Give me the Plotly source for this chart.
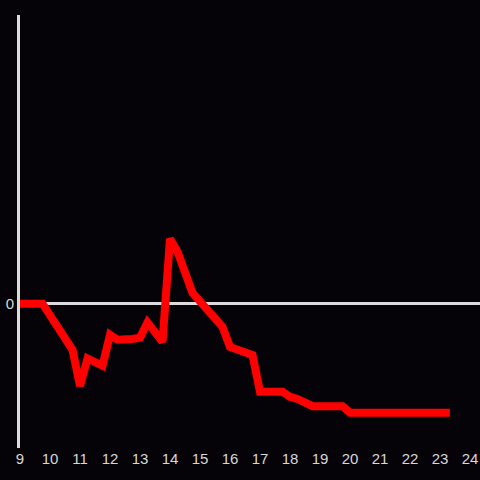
import plotly.graph_objects as go

# hours of day (x) and value (y)
hours = [9, 9.75, 10.75, 11, 11.25, 11.75, 12, 12.25, 12.75, 13, 13.25, 13.75,
         14, 14.25, 14.75, 15, 15.25, 15.75, 16, 16.25, 16.75, 17, 17.75, 18,
         18.25, 18.75, 19.75, 20, 23.33]
values = [0, 0, -3.2, -5.7, -3.8, -4.3, -2.15, -2.5, -2.45, -2.35, -1.3, -2.65,
          4.5, 3.6, 0.75, 0.15, -0.3, -1.6, -3.0, -3.15, -3.55, -6.1, -6.1, -6.45,
          -6.6, -7.1, -7.1, -7.55, -7.55]
x_ticks = list(range(9, 25))

fig = go.Figure()
fig.add_trace(go.Scatter(
    x=hours, y=values, mode="lines",
    line=dict(color="#ff0000", width=8),
    showlegend=False,
))

fig.update_layout(
    width=480, height=480,
    margin=dict(l=20, r=0, t=15, b=32),
    paper_bgcolor="#050307",
    plot_bgcolor="#050307",
    font=dict(family="Liberation Sans, Arial, sans-serif", size=15, color="#d8d8d8"),
    xaxis=dict(
        range=[9, 24.333], tickvals=x_ticks, showgrid=False, zeroline=False,
        showline=False, ticks="",
    ),
    yaxis=dict(
        range=[-10, 20], tickvals=[0], showgrid=False,
        zeroline=True, zerolinecolor="#dcdcdc", zerolinewidth=3,
        showline=True, linecolor="#dcdcdc", linewidth=3, ticks="",
    ),
)

# drop the page's default body margin so the figure sits at the window corner
fig.write_html(
    "out.html",
    config={"displayModeBar": False},
    post_script="document.body.style.margin='0';",
)
